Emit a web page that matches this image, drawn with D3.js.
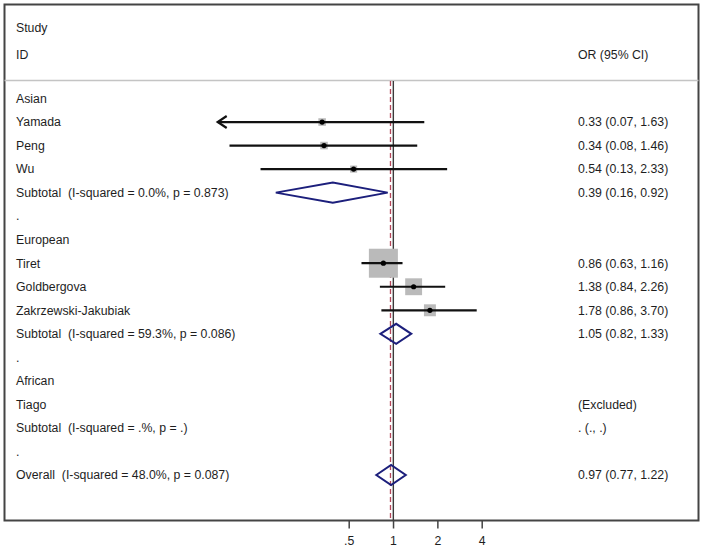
<!DOCTYPE html>
<html>
<head>
<meta charset="utf-8">
<script src="https://cdn.jsdelivr.net/npm/d3@7"></script>
<style>
  body { margin: 0; background: #fff; }
  text { font-family: "Liberation Sans", Arial, sans-serif; font-size: 12.3px; fill: #1e1e1e; white-space: pre; }
</style>
</head>
<body>
<div id="forest"></div>
<script>
// study data
var studyNames = ["Yamada", "Peng", "Wu", "Tiret", "Goldbergova", "Zakrzewski-Jakubiak", "Tiago"];
var studyGroup = ["Asian", "Asian", "Asian", "European", "European", "European", "African"];
var studyOR = [0.33, 0.34, 0.54, 0.86, 1.38, 1.78, null];
var studyLow = [0.07, 0.08, 0.13, 0.63, 0.84, 0.86, null];
var studyHigh = [1.63, 1.46, 2.33, 1.16, 2.26, 3.70, null];
var studyWeight = [4, 4, 3.5, 59, 20, 10, null];

var groups = ["Asian", "European", "African"];
var subOR = [0.39, 1.05, null];
var subLow = [0.16, 0.82, null];
var subHigh = [0.92, 1.33, null];
var subLabel = ["(I-squared = 0.0%, p = 0.873)", "(I-squared = 59.3%, p = 0.086)", "(I-squared = .%, p = .)"];

var overallOR = 0.97;
var overallLow = 0.77;
var overallHigh = 1.22;
var overallLabel = "(I-squared = 48.0%, p = 0.087)";

var tickValues = [0.5, 1, 2, 4];
var tickLabels = [".5", "1", "2", "4"];

// svg area
var svgWidth = 704;
var svgHeight = 549;

var frame = { left: 4.5, top: 4.5, right: 698.5, bottom: 520.5 };

var svg = d3.select("#forest")
  .append("svg")
  .attr("width", svgWidth)
  .attr("height", svgHeight);

// build the rows: group header, studies, subtotal, spacer dot
var rows = [];
groups.forEach(function(g, gi) {
  rows.push({ type: "header", label: g });
  studyNames.forEach(function(s, i) {
    if (studyGroup[i] === g) {
      rows.push({ type: "study", label: s, or: studyOR[i], lo: studyLow[i], hi: studyHigh[i], w: studyWeight[i] });
    }
  });
  rows.push({ type: "sub", label: "Subtotal  " + subLabel[gi], or: subOR[gi], lo: subLow[gi], hi: subHigh[gi] });
  rows.push({ type: "dot", label: "." });
});
rows.push({ type: "sub", label: "Overall  " + overallLabel, or: overallOR, lo: overallLow, hi: overallHigh });

// scales
var xScale = d3.scaleLog().base(2)
  .domain([0.5, 4])
  .range([348.7, 481.7]);
// CIs reaching below this get clipped with an arrow
var clipLow = 0.075;
var arrowAt = 1 / 16;

var yScale = d3.scaleLinear()
  .domain([0, rows.length - 1])
  .range([98.5, 475]);

var fmt = d3.format(".2f");
function ciText(d) {
  if (d.or == null) {
    return d.type === "study" ? "(Excluded)" : ". (., .)";
  }
  return fmt(d.or) + " (" + fmt(d.lo) + ", " + fmt(d.hi) + ")";
}

// frame and header separator
svg.append("rect")
  .attr("x", frame.left)
  .attr("y", frame.top)
  .attr("width", frame.right - frame.left)
  .attr("height", frame.bottom - frame.top)
  .attr("fill", "none")
  .attr("stroke", "#444")
  .attr("stroke-width", 2);

svg.append("line")
  .attr("x1", frame.left)
  .attr("x2", frame.right)
  .attr("y1", 80.5)
  .attr("y2", 80.5)
  .attr("stroke", "#c4c4c4")
  .attr("stroke-width", 1.5);

// header text
svg.append("text").attr("x", 16).attr("y", 28).attr("dy", "0.35em").text("Study");
svg.append("text").attr("x", 16).attr("y", 55).attr("dy", "0.35em").text("ID");
svg.append("text").attr("x", 578).attr("y", 55).attr("dy", "0.35em").text("OR (95% CI)");

// null line and overall line
svg.append("line")
  .attr("x1", xScale(1) + 0.3).attr("x2", xScale(1) + 0.3)
  .attr("y1", 81).attr("y2", frame.bottom)
  .attr("stroke", "#3a3a3a")
  .attr("stroke-width", 1.4);

svg.append("line")
  .attr("x1", xScale(overallOR) - 0.6).attr("x2", xScale(overallOR) - 0.6)
  .attr("y1", 81).attr("y2", frame.bottom)
  .attr("stroke", "#b5475a")
  .attr("stroke-width", 1.3)
  .attr("stroke-dasharray", "5,3");

// labels
svg.selectAll(".rowLabel")
  .data(rows)
  .enter()
  .append("text")
  .attr("class", "rowLabel")
  .attr("x", 16)
  .attr("y", (d, i) => yScale(i))
  .attr("dy", "0.35em")
  .text(d => d.label);

svg.selectAll(".ciLabel")
  .data(rows.filter(d => d.type === "study" || d.type === "sub"))
  .enter()
  .append("text")
  .attr("class", "ciLabel")
  .attr("x", 578)
  .attr("y", d => yScale(rows.indexOf(d)))
  .attr("dy", "0.35em")
  .text(ciText);

// studies
var studyRows = rows.filter(d => d.type === "study" && d.or != null);
var boxSize = d3.scaleSqrt().domain([0, 59]).range([0, 29]);

var studyG = svg.selectAll(".study")
  .data(studyRows)
  .enter()
  .append("g")
  .attr("transform", d => `translate(0, ${yScale(rows.indexOf(d))})`);

studyG.append("rect")
  .attr("x", d => xScale(d.or) - boxSize(d.w) / 2)
  .attr("y", d => -boxSize(d.w) / 2)
  .attr("width", d => boxSize(d.w))
  .attr("height", d => boxSize(d.w))
  .attr("fill", "#bababa");

studyG.append("line")
  .attr("x1", d => d.lo < clipLow ? xScale(arrowAt) + 2 : xScale(d.lo) - 2)
  .attr("x2", d => xScale(d.hi))
  .attr("stroke", "#111")
  .attr("stroke-width", 2.2);

// arrow where the CI runs off the scale
studyG.filter(d => d.lo < clipLow)
  .append("path")
  .attr("d", d => {
    var x0 = xScale(arrowAt) + 2;
    return `M${x0 + 9},-6 L${x0},0 L${x0 + 9},6`;
  })
  .attr("fill", "none")
  .attr("stroke", "#111")
  .attr("stroke-width", 2.2);

studyG.append("circle")
  .attr("cx", d => xScale(d.or))
  .attr("r", 2.6)
  .attr("fill", "#000");

// subtotal diamonds
var subRows = rows.filter(d => d.type === "sub" && d.or != null);
svg.selectAll(".diamond")
  .data(subRows)
  .enter()
  .append("path")
  .attr("d", d => {
    var y = yScale(rows.indexOf(d));
    return `M${xScale(d.lo)},${y} L${xScale(d.or)},${y - 10} L${xScale(d.hi)},${y} L${xScale(d.or)},${y + 10} Z`;
  })
  .attr("fill", "none")
  .attr("stroke", "#1c1f7c")
  .attr("stroke-width", 2);

// x axis on the bottom edge of the frame
var bottomAxis = d3.axisBottom(xScale)
  .tickValues(tickValues)
  .tickFormat((d, i) => tickLabels[i])
  .tickSize(8)
  .tickPadding(8);

var xAxis = svg.append("g")
  .attr("transform", `translate(0, ${frame.bottom})`)
  .call(bottomAxis);

xAxis.select(".domain").remove();
xAxis.selectAll("line").attr("stroke", "#444").attr("stroke-width", 1.5);
xAxis.selectAll("text")
  .attr("font-family", "Liberation Sans, Arial, sans-serif")
  .attr("font-size", "12.3px")
  .attr("fill", "#1e1e1e");
</script>
</body>
</html>
